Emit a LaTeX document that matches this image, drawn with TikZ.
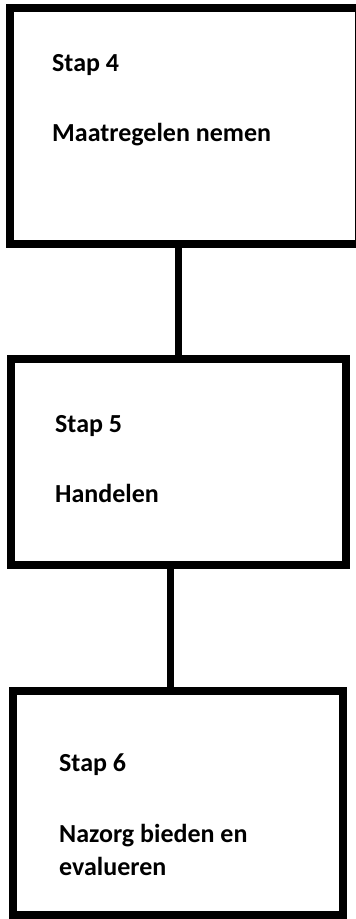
\documentclass[tikz,border=0pt]{standalone}
\usepackage{fontspec}
\setmainfont{Carlito}
\usetikzlibrary{positioning}
\tikzset{
  stepbox/.style={draw,line width=8pt,inner sep=0pt},
  steptxt/.style={anchor=base west,inner sep=0pt,font=\bfseries\fontsize{26}{33}\selectfont},
  link/.style={line width=7pt}
}
\begin{document}
\begin{tikzpicture}[x=1pt,y=-1pt]
  \useasboundingbox[fill=white] (0,0) rectangle (356,919);
  \clip (0,0) rectangle (356,919);
  % stap 4
  \node[stepbox,minimum width=349pt,minimum height=236pt] (s4) at (184.5,126) {};
  \node[steptxt] (s4a) at (52,71) {Stap 4};
  \node[steptxt] (s4b) at (52,141) {Maatregelen nemen};
  % stap 5
  \node[stepbox,minimum width=334.5pt,minimum height=206.5pt] (s5) at (178.25,462) {};
  \node[steptxt] (s5a) at (55,432) {Stap 5};
  \node[steptxt] (s5b) at (55,502) {Handelen};
  % stap 6
  \node[stepbox,minimum width=330pt,minimum height=224pt] (s6) at (178,803) {};
  \node[steptxt] (s6a) at (59,771) {Stap 6};
  \node[steptxt] (s6b) at (59,842) {Nazorg bieden en};
  \node[steptxt] (s6c) at (59,875) {evalueren};
  % lijnen
  \draw[link] ([xshift=-6.5pt]s4.south) -- ([xshift=-0.25pt]s5.north);
  \draw[link] ([xshift=-8.25pt]s5.south) -- ([xshift=-8pt]s6.north);
\end{tikzpicture}
\end{document}
